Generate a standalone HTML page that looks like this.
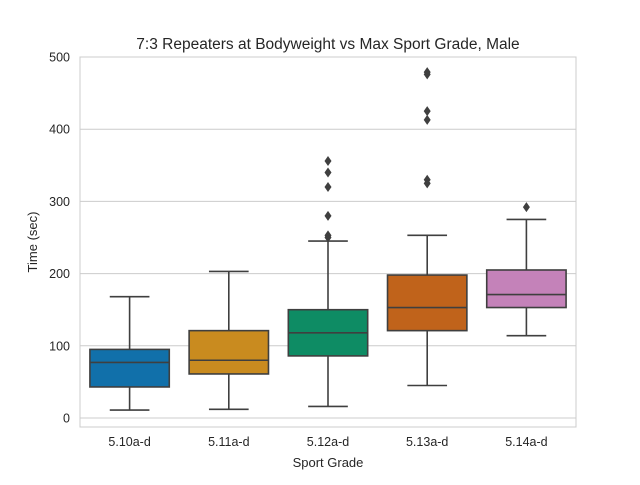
<!DOCTYPE html>
<html><head><meta charset="utf-8"><style>
body{margin:0;background:#fff;font-family:"Liberation Sans",Arial,sans-serif}
</style></head><body>
<svg id="chart" width="640" height="480" xmlns="http://www.w3.org/2000/svg">
<rect width="640" height="480" fill="#fff"/>
<g id="grid"></g>
<g id="boxes"></g>
<rect x="80" y="57" width="496" height="370" fill="none" stroke="#cccccc" stroke-width="1"/>
<g id="labels" font-size="12.5" fill="#262626"></g>
<text x="328" y="49" text-anchor="middle" font-size="15.5" fill="#262626">7:3 Repeaters at Bodyweight vs Max Sport Grade, Male</text>
<text x="328" y="467" text-anchor="middle" font-size="13" fill="#262626">Sport Grade</text>
<text transform="translate(37,242) rotate(-90)" text-anchor="middle" font-size="13" fill="#262626">Time (sec)</text>
</svg>
<script>
const categories=["5.10a-d","5.11a-d","5.12a-d","5.13a-d","5.14a-d"];
const whiskerLow=[11,12,16,45,114];
const q1=[43,61,86,121,153];
const medians=[77,80,118,153,171];
const q3=[95,121,150,198,205];
const whiskerHigh=[168,203,245,253,275];
const outliers=[[],[],[250,253,280,320,340,356],[325,330,413,425,476,479],[292]];
const yTicks=[0,100,200,300,400,500];
const colors=["#1170aa","#c98b1f","#0e8c64","#c0631b","#c482b9"];
const NS="http://www.w3.org/2000/svg";
const L=80,R=576,Y0=418,Y500=57;
const y=v=>Y0-(v/500)*(Y0-Y500);
const bw=(R-L)/categories.length;
const x=i=>L+bw*(i+0.5);
function mk(t,a,p){const e=document.createElementNS(NS,t);for(const k in a)e.setAttribute(k,a[k]);p.appendChild(e);return e;}
const g=document.getElementById('grid'),b=document.getElementById('boxes'),lab=document.getElementById('labels');
yTicks.forEach(t=>{
 const l=mk('line',{x1:L,x2:R,y1:y(t),y2:y(t),stroke:'#cccccc','stroke-width':1},g);
 
 
 const tx=mk('text',{x:L-10,y:y(t)+4.5,'text-anchor':'end'},lab);tx.textContent=t;
 
 
});
categories.forEach((c,i)=>{
 const cx=x(i),w=bw*0.8,st={stroke:'#3f3f3f','stroke-width':1.6};
 const grp=mk('g',{},b);
 
 
 mk('line',Object.assign({x1:cx,x2:cx,y1:y(whiskerLow[i]),y2:y(q1[i])},st),grp);
 mk('line',Object.assign({x1:cx,x2:cx,y1:y(q3[i]),y2:y(whiskerHigh[i])},st),grp);
 mk('line',Object.assign({x1:cx-w/4,x2:cx+w/4,y1:y(whiskerLow[i]),y2:y(whiskerLow[i])},st),grp);
 mk('line',Object.assign({x1:cx-w/4,x2:cx+w/4,y1:y(whiskerHigh[i]),y2:y(whiskerHigh[i])},st),grp);
 mk('rect',Object.assign({x:cx-w/2,y:y(q3[i]),width:w,height:y(q1[i])-y(q3[i]),fill:colors[i]},st),grp);
 mk('line',Object.assign({x1:cx-w/2,x2:cx+w/2,y1:y(medians[i]),y2:y(medians[i])},st),grp);
 outliers[i].forEach(o=>{
  const yy=y(o);
  const d=mk('polygon',{points:`${cx},${yy-5} ${cx+3.5},${yy} ${cx},${yy+5} ${cx-3.5},${yy}`,fill:'#3f3f3f'},grp);
  
  
 });
 const tx=mk('text',{x:cx,y:446,'text-anchor':'middle'},lab);tx.textContent=c;
 
 
});
</script>
</body></html>
